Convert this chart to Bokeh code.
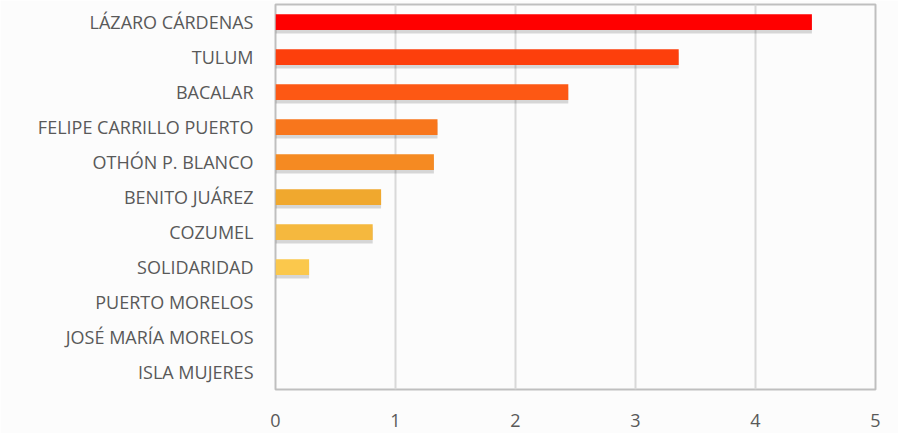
from bokeh.plotting import figure
from bokeh.models import FactorRange, Range1d, ColumnDataSource, FixedTicker
from bokeh.transform import dodge
from bokeh.embed import file_html
from bokeh.resources import INLINE

municipios = ["LÁZARO CÁRDENAS", "TULUM", "BACALAR", "FELIPE CARRILLO PUERTO",
              "OTHÓN P. BLANCO", "BENITO JUÁREZ", "COZUMEL", "SOLIDARIDAD",
              "PUERTO MORELOS", "JOSÉ MARÍA MORELOS", "ISLA MUJERES"]
valores = [4.47, 3.36, 2.44, 1.35, 1.32, 0.88, 0.81, 0.28, 0.0, 0.0, 0.0]
colores = ["#FF0000", "#FD3F0C", "#FD5814", "#F8761C", "#F58A22",
           "#F0A82E", "#F5B83E", "#FBC84C", "#FBD055", "#FBD055", "#FBD055"]
ticks_x = [0, 1, 2, 3, 4, 5]

src = ColumnDataSource(dict(cat=municipios, val=valores, col=colores))

p = figure(width=898, height=433, output_backend="svg", toolbar_location=None,
           y_range=FactorRange(factors=list(reversed(municipios))),
           x_range=Range1d(0, 5),
           min_border_left=275, min_border_right=23, min_border_top=4, min_border_bottom=44)

bg = "#FCFCFC"
p.background_fill_color = bg
p.border_fill_color = bg
p.outline_line_color = "#BFBFBF"
p.outline_line_width = 2

# shadows
p.hbar(y=dodge("cat", -0.1, range=p.y_range), right="val", left=0, height=0.46,
       source=src, fill_color="#000000", fill_alpha=0.15, line_color=None)
p.hbar(y="cat", right="val", left=0, height=0.45, source=src,
       fill_color="col", line_color=None)

p.ygrid.grid_line_color = None
p.xgrid.grid_line_color = "#D9D9D9"
p.xgrid.grid_line_width = 2
p.xaxis.ticker = FixedTicker(ticks=ticks_x)

for ax in (p.xaxis[0], p.yaxis[0]):
    ax.axis_line_color = None
    ax.major_tick_line_color = None
    ax.minor_tick_line_color = None
    ax.major_label_text_color = "#595959"
    ax.major_label_text_font = "Open Sans"
    ax.major_label_text_font_size = "18px"

p.yaxis.major_label_standoff = 16
p.xaxis.major_label_standoff = 18

html = file_html(p, INLINE)
html = html.replace("<body>", "<body style=\"margin:0;background:#FCFCFC\">", 1)
open("out.html", "w").write(html)
